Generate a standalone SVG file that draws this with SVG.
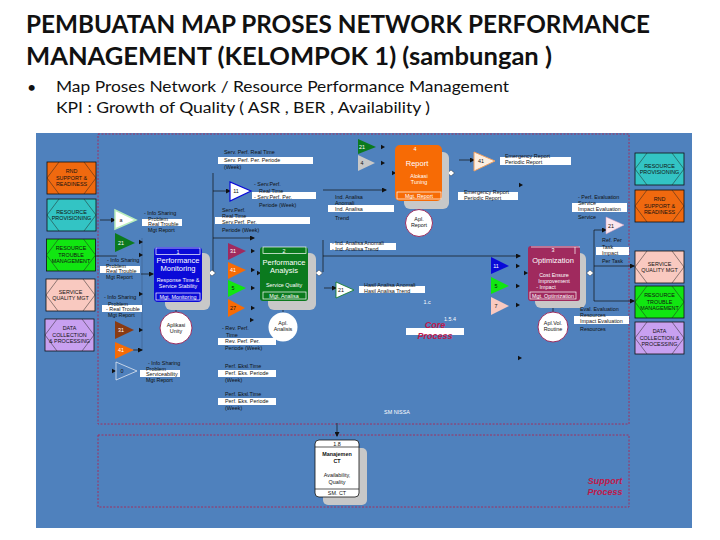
<svg xmlns="http://www.w3.org/2000/svg" width="720" height="540" viewBox="0 0 720 540">
<style>
text{font-family:"Liberation Sans",Arial,sans-serif}
.t{font-family:"Lato","Liberation Sans",sans-serif;font-weight:700;font-size:25px;fill:#111}
.b{font-family:"Lato","Liberation Sans",sans-serif;font-size:16px;fill:#111}
.s{font-size:5.4px;fill:#111}
.c{font-size:5.4px;fill:#111;text-anchor:middle}
.w{font-size:5.4px;fill:#fff;text-anchor:middle}
.wl{font-size:7.5px;fill:#fff;text-anchor:middle}
.bar{fill:#fff}
.hex{fill:none;stroke:#222;stroke-width:.5}
.box{stroke:#111;stroke-width:.8}
.sh{fill:#c8c8c8}
.dash{fill:none;stroke:#a03060;stroke-width:1;stroke-dasharray:2 1.5}
.ln{fill:none;stroke:#111;stroke-width:.7}
.thin{fill:none;stroke:#3d5f8c;stroke-width:.6}
.cp{font-size:9px;font-weight:700;font-style:italic;fill:#c0184a;text-anchor:middle}
.circ{fill:#fff;stroke:#9b2d5f;stroke-width:1}
</style>
<defs>
<marker id="m" markerWidth="5" markerHeight="5" refX="4" refY="2.5" orient="auto" markerUnits="userSpaceOnUse"><path d="M0 0L5 2.5L0 5z" fill="#111"/></marker>
<path id="a" d="M-2 -2.2L2 0L-2 2.2z" fill="#111"/>
<path id="d" d="M-3.5 0L0 -3L3.5 0L0 3z" fill="#fff" stroke="#111" stroke-width=".4"/>
<path id="hx" d="M12 0L0 16L12 32M37 0L49 16L37 32"/>
</defs>
<rect width="720" height="540" fill="#fff"/>
<text class="t" x="26" y="33" textLength="624" lengthAdjust="spacingAndGlyphs">PEMBUATAN MAP PROSES NETWORK PERFORMANCE</text>
<text class="t" x="26" y="65" textLength="526" lengthAdjust="spacingAndGlyphs">MANAGEMENT  (KELOMPOK 1) (sambungan )</text>
<text class="b" x="27" y="93">•</text>
<text class="b" x="56" y="92" textLength="453" lengthAdjust="spacingAndGlyphs">Map Proses  Network  / Resource Performance Management</text>
<text class="b" x="56" y="113" textLength="374" lengthAdjust="spacingAndGlyphs">KPI :  Growth of Quality  ( ASR , BER , Availability )</text>
<rect x="36" y="133" width="656" height="395" fill="#4f81bd"/>
<rect class="dash" x="98" y="134" width="531" height="290"/>
<rect class="dash" x="98" y="435" width="531" height="72"/>
<g id="connectors">
<path class="thin" d="M142 238V350"/>
<path class="ln" d="M213 173V272M323 240V272"/>
<path class="ln" d="M100 220H115" marker-end="url(#m)"/>
<path class="ln" d="M95 256H117"/>
<path class="ln" d="M141 274H153" marker-end="url(#m)"/>
<path class="ln" d="M213 191H230" marker-end="url(#m)"/>
<path class="ln" d="M213 238H254" marker-end="url(#m)"/>
<path class="ln" d="M323 190H386" marker-end="url(#m)"/>
<path class="ln" d="M323 256H520" marker-end="url(#m)"/>
<path class="ln" d="M324 288H336" marker-end="url(#m)"/>
<path class="ln" d="M459 160H474" marker-end="url(#m)"/>
<path class="ln" d="M133 350H142" marker-end="url(#m)"/>
<path class="ln" d="M594 230V301H634" marker-end="url(#m)"/>
<path class="ln" d="M594 230H606" marker-end="url(#m)"/>
<path class="ln" d="M594 266H634" marker-end="url(#m)"/>
<path class="ln" d="M176 302V312M283 301V312M419 201V209M553 301V312" stroke-width="1.5"/>
<path class="ln" d="M337 426V436" marker-end="url(#m)"/>
<path class="ln" d="M337 423V426"/>
<use href="#a" x="141" y="242"/><use href="#a" x="141" y="255"/><use href="#a" x="141" y="294"/><use href="#a" x="141" y="330"/>
<use href="#a" x="114" y="371"/><use href="#a" x="253" y="251"/><use href="#a" x="253" y="270"/><use href="#a" x="253" y="288"/><use href="#a" x="253" y="308"/><use href="#a" x="252" y="320"/>
<use href="#a" x="383" y="147"/><use href="#a" x="383" y="163"/><use href="#a" x="394" y="173"/>
<use href="#a" x="259" y="273"/><use href="#a" x="521" y="185"/><use href="#a" x="526" y="273"/><use href="#a" x="518" y="266"/><use href="#a" x="518" y="286"/><use href="#a" x="518" y="305"/><use href="#a" x="520" y="358"/>
<use href="#a" x="445" y="173"/><use href="#a" x="312" y="273"/><use href="#a" x="583" y="273"/><use href="#a" x="207" y="273"/>
<use href="#d" x="212" y="273"/><use href="#d" x="319" y="273"/><use href="#d" x="451" y="173"/><use href="#d" x="590" y="273"/>
</g>
<g id="n-rnd-l"><g transform="translate(47 162)"><rect class="box" width="49" height="32" fill="#f0690f"/><use href="#hx" class="hex"/><text class="c" x="24.5" y="11">RND</text><text class="c" x="24.5" y="17.5">SUPPORT &amp;</text><text class="c" x="24.5" y="24">READINESS</text></g></g>
<g id="n-prov-l"><g transform="translate(47 199)"><rect class="box" width="49" height="32" fill="#33c4c4"/><use href="#hx" class="hex"/><text class="c" x="24.5" y="15">RESOURCE</text><text class="c" x="24.5" y="21">PROVISIONING</text></g></g>
<g id="n-trouble-l"><g transform="translate(46.5 239)"><rect class="box" width="49" height="32" fill="#11e611"/><use href="#hx" class="hex"/><text class="c" x="24.5" y="11">RESOURCE</text><text class="c" x="24.5" y="17.5">TROUBLE</text><text class="c" x="24.5" y="24">MANAGEMENT</text></g></g>
<g id="n-sq-l"><g transform="translate(46 279)"><rect class="box" width="49" height="32" fill="#f9c9c0"/><use href="#hx" class="hex"/><text class="c" x="24.5" y="15">SERVICE</text><text class="c" x="24.5" y="21">QUALITY MGT</text></g></g>
<g id="n-data-l"><g transform="translate(45 319)"><rect class="box" width="49" height="32" fill="#c8a0f0"/><use href="#hx" class="hex"/><text class="c" x="24.5" y="11">DATA</text><text class="c" x="24.5" y="17.5">COLLECTION</text><text class="c" x="24.5" y="24">&amp; PROCESSING</text></g></g>
<g id="n-prov-r"><g transform="translate(635 153)"><rect class="box" width="49" height="32" fill="#33c4c4"/><use href="#hx" class="hex"/><text class="c" x="24.5" y="15">RESOURCE</text><text class="c" x="24.5" y="21">PROVISIONING</text></g></g>
<g id="n-rnd-r"><g transform="translate(635 190)"><rect class="box" width="49" height="32" fill="#f0690f"/><use href="#hx" class="hex"/><text class="c" x="24.5" y="11">RND</text><text class="c" x="24.5" y="17.5">SUPPORT &amp;</text><text class="c" x="24.5" y="24">READINESS</text></g></g>
<g id="n-sq-r"><g transform="translate(635 251)"><rect class="box" width="49" height="32" fill="#f9c9c0"/><use href="#hx" class="hex"/><text class="c" x="24.5" y="15">SERVICE</text><text class="c" x="24.5" y="21">QUALITY MGT</text></g></g>
<g id="n-trouble-r"><g transform="translate(635 286)"><rect class="box" width="49" height="32" fill="#11e611"/><use href="#hx" class="hex"/><text class="c" x="24.5" y="11">RESOURCE</text><text class="c" x="24.5" y="17.5">TROUBLE</text><text class="c" x="24.5" y="24">MANAGEMENT</text></g></g>
<g id="n-data-r"><g transform="translate(635 322)"><rect class="box" width="49" height="32" fill="#c8a0f0"/><use href="#hx" class="hex"/><text class="c" x="24.5" y="11">DATA</text><text class="c" x="24.5" y="17.5">COLLECTION &amp;</text><text class="c" x="24.5" y="24">PROCESSING</text></g></g>
<g id="p1">
<rect class="sh" x="165" y="253" width="45" height="57" rx="6"/>
<rect x="154" y="247" width="48" height="55" rx="4" fill="#0a0ad8"/>
<rect x="156" y="248" width="44" height="6.5" fill="none" stroke="#fff" stroke-width=".7"/>
<text class="w" x="178" y="253.500">1</text>
<text class="wl" x="178" y="263">Performance</text><text class="wl" x="178" y="271">Monitoring</text>
<text class="w" x="178" y="282">Response Time &amp;</text><text class="w" x="178" y="288">Service Stability</text>
<rect x="156" y="293" width="44" height="7" fill="none" stroke="#fff" stroke-width=".7"/>
<text class="w" x="178" y="298.500">Mgt. Monitoring</text>
</g>
<g id="p2">
<rect class="sh" x="268" y="253" width="48" height="57" rx="6"/>
<rect x="260" y="247" width="48" height="54" rx="3" fill="#0b7a1e"/>
<rect x="263" y="247" width="43" height="6.5" fill="none" stroke="#fff" stroke-width=".7"/>
<text class="w" x="284" y="252.500">2</text>
<text class="wl" x="284" y="265">Performance</text><text class="wl" x="284" y="273">Analysis</text>
<text class="w" x="284" y="287">Service Quality</text>
<rect x="263" y="292" width="43" height="7" fill="none" stroke="#fff" stroke-width=".7"/>
<text class="w" x="284" y="297.500">Mgt. Analisa</text>
</g>
<g id="p3">
<rect class="sh" x="535" y="253" width="51" height="55" rx="6"/>
<rect x="528" y="246" width="52" height="55" rx="3" fill="#a02a5e"/>
<path d="M531 247H580M575 247V254" fill="none" stroke="#fff" stroke-width=".7"/>
<text class="w" x="553" y="252">3</text>
<text class="wl" x="553" y="263">Optimization</text>
<text class="w" x="554" y="277">Cost Ensure</text><text class="w" x="554" y="283">Improvement</text><text class="w" x="546" y="288.500">- Impact</text>
<rect x="530" y="292" width="46" height="7" fill="none" stroke="#fff" stroke-width=".7"/>
<text class="w" x="553" y="297.500">Mgt. Optimization</text>
</g>
<g id="p4">
<rect class="sh" x="404" y="152" width="45" height="57" rx="6"/>
<rect x="395" y="145" width="47" height="56" rx="5" fill="#f76b05"/>
<text class="w" x="415" y="151">4</text>
<text class="wl" x="417" y="166">Report</text>
<text class="w" x="419" y="178">Alokasi</text><text class="w" x="419" y="184">Tuning</text>
<rect x="397" y="192" width="44" height="7" fill="none" stroke="#fff" stroke-width=".7"/>
<text class="w" x="419" y="197.500">Mgt. Report</text>
</g>
<g id="c1"><circle class="circ" cx="176" cy="328" r="16"/><text class="c" x="176" y="327">Aplikasi</text><text class="c" x="176" y="333">Unity</text></g>
<g id="c2"><circle cx="283" cy="327" r="14.5" fill="#fff"/><text class="c" x="283" y="325">Apl.</text><text class="c" x="283" y="331">Analisis</text></g>
<g id="c3"><circle class="circ" cx="419" cy="223" r="13.5"/><text class="c" x="419" y="221">Apl.</text><text class="c" x="419" y="227">Report</text></g>
<g id="c4"><circle class="circ" cx="553" cy="327" r="15"/><text class="c" x="553" y="325">Apl.Vol.</text><text class="c" x="553" y="331">Routine</text></g>
<g id="triangles">
<path d="M115 210V229L136 220z" fill="#fff" stroke="#b9eebc" stroke-width="1.5"/><text class="c" x="121" y="222">a</text>
<path d="M115 233V252L135 243z" fill="#0b7a1e"/><text class="w" x="121" y="245">21</text>
<path d="M115 321V339L134 330z" fill="#8a3a12"/><text class="w" x="121" y="332">31</text>
<path d="M115 342V359L134 350z" fill="#f76b05"/><text class="w" x="121" y="352">41</text>
<path d="M116 362V380L137 371z" fill="none" stroke="#dfe6f0" stroke-width=".8"/><text class="c" x="122" y="373">0</text>
<path d="M230 182V201L251 191z" fill="#fff" stroke="#0a0ad8" stroke-width="1.2"/><text class="c" x="236" y="193">11</text>
<path d="M228 243V260L246 251z" fill="#a02a5e"/><text class="w" x="233" y="253">31</text>
<path d="M228 262V279L246 270z" fill="#f76b05"/><text class="w" x="233" y="272">41</text>
<path d="M228 280V297L246 288z" fill="#11e611"/><text class="c" x="233" y="290">5</text>
<path d="M228 299V317L245 308z" fill="#f76b05"/><text class="c" x="233" y="310">27</text>
<path d="M336 282V298L354 290z" fill="#fff" stroke="#0b7a1e" stroke-width=".8"/><text class="c" x="341" y="292">21</text>
<path d="M358 139V154L376 147z" fill="#0b7a1e"/><text class="w" x="362" y="149">21</text>
<path d="M358 155V171L375 163z" fill="#c8c8c8"/><text class="c" x="362" y="165">4</text>
<path d="M474 152V171L495 161z" fill="#fdeee0" stroke="#f0a060" stroke-width="1"/><text class="c" x="481" y="163">41</text>
<path d="M606 217V234L624 225z" fill="#fbe6ee" stroke="#d8a0c0" stroke-width=".5"/><text class="c" x="611" y="228">21</text>
<path d="M491 257V274L509 266z" fill="#0a0ad8"/><text class="w" x="496" y="268">11</text>
<path d="M491 277V294L509 286z" fill="#11e611"/><text class="c" x="496" y="288">5</text>
<path d="M491 297V315L509 306z" fill="#f9c9c0"/><text class="c" x="496" y="308">7</text>
</g>
<g id="labels">
<rect class="bar" x="142" y="219" width="40" height="7"/><text class="s" x="144" y="215">- Info Sharing</text><text class="s" x="148" y="221">Problem</text><text class="s" x="148" y="226">Real Trouble</text><text class="s" x="148" y="232">Mgt Report</text>
<rect class="bar" x="100" y="266" width="40" height="7"/><text class="s" x="107" y="262">- Info Sharing</text><text class="s" x="106" y="268">Problem</text><text class="s" x="106" y="273">Real Trouble</text><text class="s" x="106" y="279">Mgt Report</text>
<rect class="bar" x="102" y="305" width="40" height="7"/><text class="s" x="104" y="299">- Info Sharing</text><text class="s" x="108" y="306">Problem</text><text class="s" x="106" y="311">- Real Trouble</text><text class="s" x="108" y="317">Mgt Report</text>
<rect class="bar" x="140" y="370" width="40" height="7"/><text class="s" x="148" y="365">- Info Sharing</text><text class="s" x="146" y="371">Problem</text><text class="s" x="146" y="376">Serviceability</text><text class="s" x="146" y="382">Mgt Report</text>
<rect class="bar" x="218" y="157" width="95" height="7"/><text class="s" x="224" y="154">Serv. Perf. Real Time</text><text class="s" x="224" y="162">Serv. Perf. Per. Periode</text><text class="s" x="224" y="169">(Week)</text>
<rect class="bar" x="252" y="192" width="64" height="7"/><text class="s" x="254" y="186">- Serv.Perf.</text><text class="s" x="259" y="193">Real Time</text><text class="s" x="254" y="199">- Serv.Perf. Per.</text><text class="s" x="259" y="207">Periode (Week)</text>
<rect class="bar" x="215" y="217" width="95" height="7"/><text class="s" x="222" y="212">Serv.Perf.</text><text class="s" x="222" y="218">Real Time</text><text class="s" x="222" y="224">Serv.Perf. Per.</text><text class="s" x="222" y="232">Periode (Week)</text>
<rect class="bar" x="328" y="205" width="66" height="7"/><text class="s" x="335" y="199">Ind. Analisa</text><text class="s" x="335" y="205">Anomali</text><text class="s" x="335" y="211">Ind. Analisa</text><text class="s" x="335" y="220">Trend</text>
<rect class="bar" x="330" y="243" width="66" height="7"/><text class="s" x="332" y="245">- Ind. Analisa Anomali</text><text class="s" x="332" y="251">- Ind. Analisa Trend</text>
<rect class="bar" x="359" y="286" width="66" height="7"/><text class="s" x="364" y="287">Hasil Analisa Anomali</text><text class="s" x="364" y="293">Hasil Analisa Trend</text>
<rect class="bar" x="218" y="338" width="58" height="7"/><text class="s" x="222" y="330">- Rev. Perf.</text><text class="s" x="226" y="337">Time</text><text class="s" x="225" y="343">Rev. Perf. Per.</text><text class="s" x="225" y="350">Periode (Week)</text>
<rect class="bar" x="218" y="370" width="58" height="7"/><text class="s" x="225" y="368">Perf. Eksl.Time</text><text class="s" x="225" y="375">Perf. Eks. Periode</text><text class="s" x="225" y="382">(Week)</text>
<rect class="bar" x="218" y="398" width="58" height="7"/><text class="s" x="225" y="396">Perf. Eksl.Time</text><text class="s" x="225" y="403">Perf. Eks. Periode</text><text class="s" x="225" y="410">(Week)</text>
<rect class="bar" x="500" y="157" width="71" height="8"/><text class="s" x="505" y="158">Emergency Report</text><text class="s" x="505" y="164">Periodic Report</text>
<rect class="bar" x="458" y="192" width="60" height="8"/><text class="s" x="464" y="194">Emergency Report</text><text class="s" x="464" y="200">Periodic Report</text>
<rect class="bar" x="572" y="203" width="55" height="9"/><text class="s" x="578" y="199">- Perf. Evaluation</text><text class="s" x="578" y="205">Service</text><text class="s" x="578" y="211">Impact Evaluation</text><text class="s" x="578" y="219">Service</text>
<rect class="bar" x="596" y="247" width="33" height="8"/><text class="s" x="602" y="242">Ref. Per</text><text class="s" x="602" y="249">Task</text><text class="s" x="602" y="255">Impact</text><text class="s" x="602" y="263">Per Task</text>
<rect class="bar" x="574" y="316" width="55" height="8"/><text class="s" x="580" y="311">Eval. Evaluation</text><text class="s" x="580" y="317">Resources</text><text class="s" x="580" y="323">Impact Evaluation</text><text class="s" x="580" y="331">Resources</text>
<rect class="bar" x="406" y="328" width="58" height="7"/><text class="cp" x="435" y="328">Core</text><text class="cp" x="435" y="339">Process</text>
<text class="w" x="427" y="304">1.c</text><text class="w" x="450" y="321">1.5.4</text>
<text class="w" x="397" y="414">SM NISSA</text>
<text class="cp" x="605" y="484">Support</text><text class="cp" x="605" y="495">Process</text>
</g>
<g id="p-ct">
<rect class="sh" x="323" y="448" width="44" height="57" rx="5"/>
<rect x="315" y="440" width="44" height="57" rx="4" fill="#fff" stroke="#111" stroke-width=".8"/>
<path class="ln" d="M315 447H359M315 489H359"/>
<text class="c" x="337" y="445.500">1.8</text>
<text class="c" x="337" y="456" font-weight="700">Manajemen</text><text class="c" x="337" y="463" font-weight="700">CT</text>
<text class="c" x="337" y="477">Availability,</text><text class="c" x="337" y="484">Quality</text>
<text class="c" x="337" y="495">SM. CT</text>
</g>
</svg>
